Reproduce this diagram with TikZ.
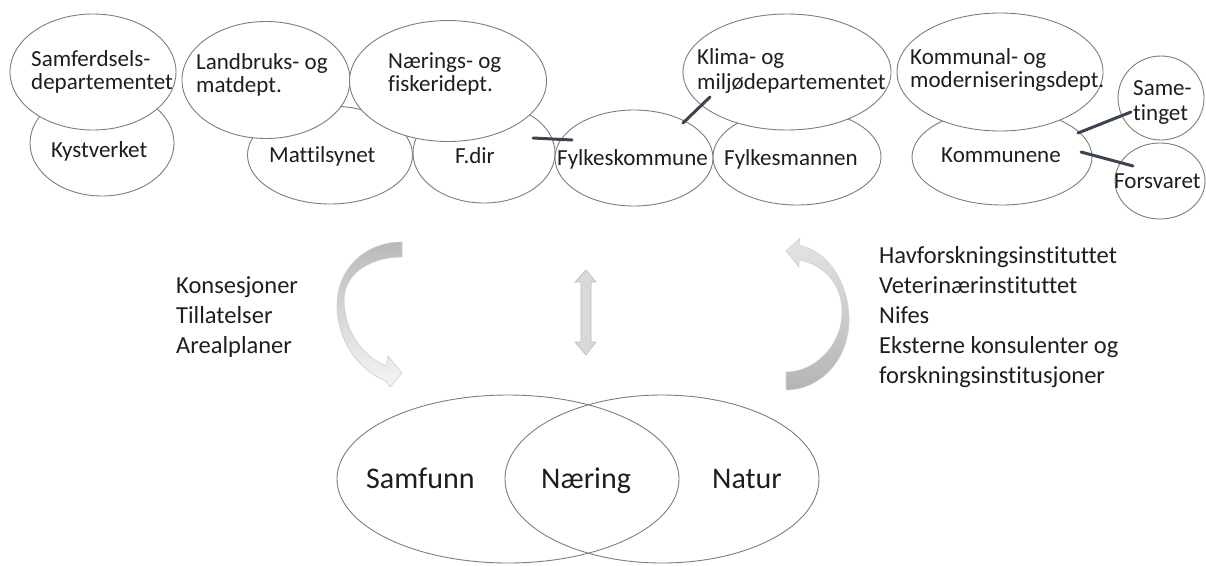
\documentclass[tikz,border=0pt]{standalone}
\usepackage{fontspec}
\setmainfont{Carlito}[Ligatures=NoCommon]
\usetikzlibrary{shapes.geometric}
\definecolor{ell}{RGB}{125,125,125}
\definecolor{bar}{RGB}{59,69,82}
\definecolor{txt}{RGB}{30,30,30}
\tikzset{
  ov/.style={ellipse, draw=ell, line width=0.9pt, fill=white, inner sep=0pt},
  venn/.style={ellipse, draw=ell, line width=0.9pt, inner sep=0pt},
  tt/.style={anchor=base west, inner sep=0pt, text=txt, align=left,
             font=\fontsize{23}{23}\selectfont},
  st/.style={anchor=base west, inner sep=0pt, text=txt, align=left,
             font=\fontsize{24.5}{30}\selectfont},
  vt/.style={anchor=base west, inner sep=0pt, text=txt,
             font=\fontsize{30}{30}\selectfont},
  link/.style={draw=bar, line width=3pt, line cap=round},
}
\begin{document}
\begin{tikzpicture}[x=1pt,y=-1pt]
\useasboundingbox (0,0) rectangle (1206,565);

% lower row
\node[ov, minimum width=144, minimum height=106] (kyst) at (102,143) {};
\node[ov, minimum width=165, minimum height=98] (matt) at (330,155) {};
\node[ov, minimum width=142, minimum height=100] (fdir) at (484,153) {};
\node[ov, minimum width=158, minimum height=96] (fylk) at (634,158) {};
\node[ov, minimum width=168, minimum height=96] (fmann) at (797,157) {};
\node[ov, minimum width=180, minimum height=96] (komm) at (1002,157) {};
\node[ov, minimum width=90, minimum height=76] (forsv) at (1160,181) {};
% upper row
\node[ov, minimum width=166, minimum height=116] (samf) at (93,72) {};
\node[ov, minimum width=168, minimum height=117] (landb) at (266,80) {};
\node[ov, minimum width=197, minimum height=121] (naer) at (448,81) {};
\node[ov, minimum width=208, minimum height=116] (klima) at (787,72) {};
\node[ov, minimum width=206, minimum height=118] (kommun) at (1000,72) {};
\node[ov, minimum width=86, minimum height=84] (same) at (1161,98) {};

% texts in ellipses (base = last line)
\node[tt] (tsamf) at (31,89) {Samferdsels-\\departementet};
\node[tt] (tlandb) at (196,92) {Landbruks- og\\matdept.};
\node[tt] (tnaer) at (388,91) {Nærings- og\\fiskeridept.};
\node[tt, font=\fontsize{23}{25}\selectfont] (tklima) at (697,89) {Klima- og\\miljødepartementet};
\node[tt] (tkommun) at (910,87) {Kommunal- og\\moderniseringsdept.};
\node[tt, font=\fontsize{23}{25}\selectfont] (tsame) at (1133,120) {Same-\\tinget};
\node[tt] (tkyst) at (51,157) {Kystverket};
\node[tt] (tmatt) at (269,162) {Mattilsynet};
\node[tt] (tfdir) at (455,163) {F.dir};
\node[tt] (tfylk) at (557,165) {Fylkeskommune};
\node[tt] (tfmann) at (724,165) {Fylkesmannen};
\node[tt] (tkomm) at (941,162) {Kommunene};
\node[tt] (tforsv) at (1114,188) {Forsvaret};

% connectors
\coordinate (c1a) at (533,138); \coordinate (c1b) at (572,140);
\coordinate (c2a) at (683,123); \coordinate (c2b) at (710,97);
\coordinate (c3a) at (1078,133); \coordinate (c3b) at (1131,112);
\coordinate (c4a) at (1081,152); \coordinate (c4b) at (1133,166);
\draw[link] (c1a) -- (c1b);
\draw[link] (c2a) -- (c2b);
\draw[link] (c3a) -- (c3b);
\draw[link] (c4a) -- (c4b);

% side texts (base = last line)
\node[st] (tleft) at (176,353) {Konsesjoner\\Tillatelser\\Arealplaner};
\node[st] (tright) at (879,383) {Havforskningsinstituttet\\Veterinærinstituttet\\Nifes\\Eksterne konsulenter og\\forskningsinstitusjoner};

% left curved arrow
\shade[top color={rgb,255:red,185;green,185;blue,185}, bottom color={rgb,255:red,245;green,245;blue,245},
       draw={rgb,255:red,205;green,205;blue,205}, line width=0.6pt]
  (402,242) .. controls (364,242) and (337,270) .. (337,305)
  .. controls (337,340) and (358,370) .. (386,381)
  -- (390,387) -- (402,373) -- (388,356) -- (386,366)
  .. controls (362,356) and (344,330) .. (344,300)
  .. controls (344,274) and (370,257) .. (402,257) -- cycle;

% right curved arrow
\shade[top color={rgb,255:red,228;green,228;blue,228}, bottom color={rgb,255:red,180;green,180;blue,180},
       draw={rgb,255:red,210;green,210;blue,210}, line width=0.6pt]
  (786,251) -- (800,238) -- (799,245)
  .. controls (830,252) and (849,285) .. (849,320)
  .. controls (849,360) and (820,390) .. (786,390) -- (786,372)
  .. controls (815,372) and (842,345) .. (842,312)
  .. controls (842,285) and (825,265) .. (799,260) -- (799,267) -- cycle;

% middle double arrow
\filldraw[fill={rgb,255:red,217;green,217;blue,217}, draw={rgb,255:red,190;green,190;blue,190}, line width=0.7pt]
  (586,270) -- (596,282) -- (591,282) -- (591,342) -- (596,342) -- (586,355)
  -- (575,342) -- (581,342) -- (581,282) -- (575,282) -- cycle;

% Venn
\node[venn, minimum width=342, minimum height=168] (samfunn) at (508,479) {};
\node[venn, minimum width=314, minimum height=168] (natur) at (662,479) {};
\node[vt] (tsamfunn) at (366,488) {Samfunn};
\node[vt] (tnaering) at (541,488) {Næring};
\node[vt] (tnatur) at (712,488) {Natur};
\end{tikzpicture}
\end{document}
